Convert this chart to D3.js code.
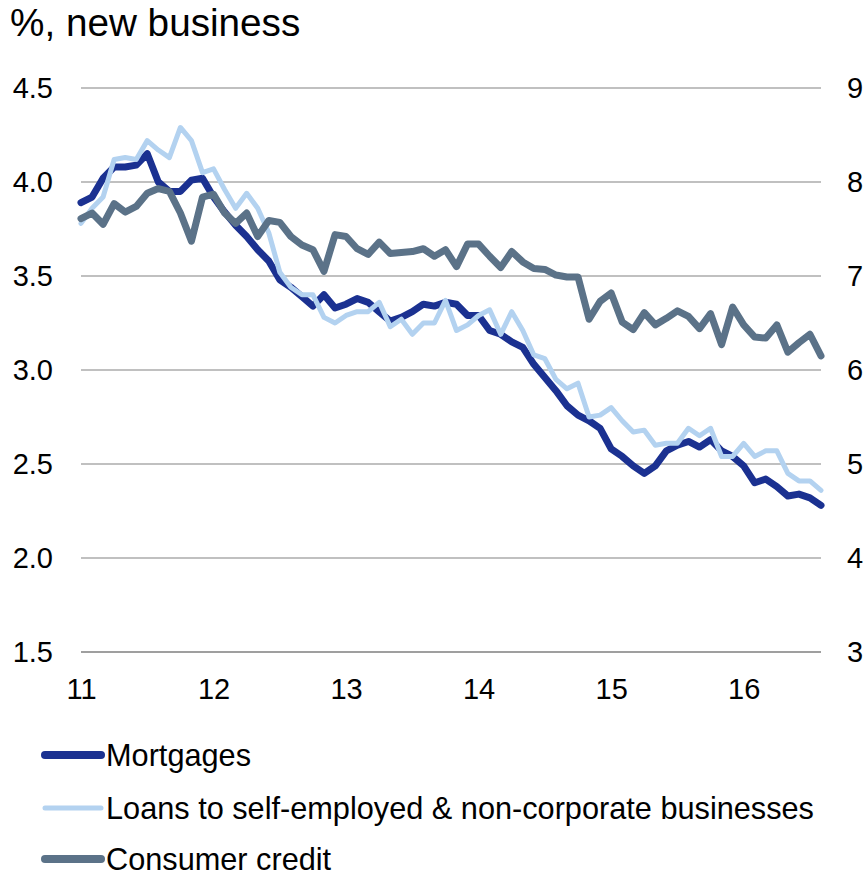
<!DOCTYPE html>
<html>
<head>
<meta charset="utf-8">
<script src="https://cdn.jsdelivr.net/npm/d3@7"></script>
<style>
  html, body { margin: 0; padding: 0; background: #fff; }
  svg { display: block; font-family: "Liberation Sans", Arial, sans-serif; }
</style>
</head>
<body>
<svg id="chart" width="865" height="878"></svg>
<script>
// ---- data (monthly, Jan 2011 – Aug 2016) ----
const yearLabels = ["11", "12", "13", "14", "15", "16"];
const leftTicks = [1.5, 2.0, 2.5, 3.0, 3.5, 4.0, 4.5];
const rightTicks = [3, 4, 5, 6, 7, 8, 9];

const mortgages = [
  3.89, 3.92, 4.02, 4.08, 4.08, 4.09, 4.15, 4.00, 3.95, 3.95, 4.01, 4.02,
  3.92, 3.84, 3.77, 3.71, 3.64, 3.58, 3.48, 3.44, 3.39, 3.34, 3.40, 3.33,
  3.35, 3.38, 3.36, 3.31, 3.26, 3.28, 3.31, 3.35, 3.34, 3.36, 3.35, 3.29,
  3.29, 3.21, 3.19, 3.15, 3.12, 3.03, 2.96, 2.89, 2.81, 2.76, 2.73, 2.69,
  2.58, 2.54, 2.49, 2.45, 2.49, 2.57, 2.60, 2.62, 2.59, 2.63, 2.57, 2.54,
  2.49, 2.40, 2.42, 2.38, 2.33, 2.34, 2.32, 2.28
];
const loans = [
  3.78, 3.86, 3.92, 4.12, 4.13, 4.12, 4.22, 4.17, 4.13, 4.29, 4.22, 4.05,
  4.07, 3.96, 3.86, 3.94, 3.86, 3.73, 3.52, 3.44, 3.40, 3.40, 3.28, 3.25,
  3.29, 3.31, 3.31, 3.36, 3.23, 3.27, 3.19, 3.25, 3.25, 3.37, 3.21, 3.24,
  3.29, 3.32, 3.19, 3.31, 3.21, 3.08, 3.06, 2.95, 2.90, 2.93, 2.75, 2.76,
  2.80, 2.73, 2.67, 2.68, 2.60, 2.61, 2.61, 2.69, 2.65, 2.69, 2.54, 2.54,
  2.61, 2.54, 2.57, 2.57, 2.45, 2.41, 2.41, 2.36
];
const consumer = [
  7.61, 7.67, 7.55, 7.77, 7.68, 7.74, 7.88, 7.93, 7.90, 7.67, 7.37, 7.84,
  7.87, 7.67, 7.56, 7.67, 7.42, 7.59, 7.57, 7.42, 7.33, 7.28, 7.05, 7.44,
  7.42, 7.29, 7.23, 7.36, 7.24, 7.25, 7.26, 7.29, 7.21, 7.28, 7.10, 7.34,
  7.34, 7.21, 7.09, 7.26, 7.15, 7.08, 7.07, 7.01, 6.99, 6.99, 6.54, 6.73,
  6.82, 6.51, 6.43, 6.61, 6.48, 6.55, 6.63, 6.57, 6.44, 6.60, 6.27, 6.67,
  6.48, 6.35, 6.34, 6.48, 6.19, 6.29, 6.38, 6.15
];

const seriesNames = ["Mortgages", "Loans to self-employed & non-corporate businesses", "Consumer credit"];

// ---- layout ----
const svg = d3.select("#chart");
const pLeft = 81, pRight = 821, pTop = 88, pBottom = 652;

const x = d3.scaleLinear().domain([0, mortgages.length - 1]).range([pLeft, pRight]);
const yL = d3.scaleLinear().domain([1.5, 4.5]).range([pBottom, pTop]);
const yR = d3.scaleLinear().domain([3, 9]).range([pBottom, pTop]);

// title
svg.append("text").attr("x", 10).attr("y", 36)
  .attr("font-size", 38.7).attr("fill", "#000").text("%, new business");

// gridlines
svg.append("g").selectAll("line").data(leftTicks).join("line")
  .attr("x1", pLeft).attr("x2", pRight)
  .attr("y1", d => yL(d)).attr("y2", d => yL(d))
  .attr("stroke", d => d === 1.5 ? "#7f7f7f" : "#ababab")
  .attr("stroke-width", 1.5);

const styleText = g => g.selectAll("text").attr("font-size", 29).attr("fill", "#000")
  .attr("font-family", "Liberation Sans, Arial, sans-serif");

// left axis labels
svg.append("g").attr("transform", `translate(${pLeft},0)`)
  .call(d3.axisLeft(yL).tickValues(leftTicks).tickFormat(d3.format(".1f")).tickSize(0).tickPadding(28))
  .call(g => g.select(".domain").remove())
  .call(styleText);

// right axis labels
svg.append("g").attr("transform", `translate(${pRight},0)`)
  .call(d3.axisRight(yR).tickValues(rightTicks).tickFormat(d3.format("d")).tickSize(0).tickPadding(26))
  .call(g => g.select(".domain").remove())
  .call(styleText);

// bottom axis labels (January of each year)
const yearIdx = yearLabels.map((d, i) => i * 12);
svg.append("g").attr("transform", `translate(0,${pBottom})`)
  .call(d3.axisBottom(x).tickValues(yearIdx).tickFormat((d, i) => yearLabels[i]).tickSize(0).tickPadding(26))
  .call(g => g.select(".domain").remove())
  .call(styleText);

// lines
const colors = ["#1b3191", "#b3d2f0", "#5b7288"];
const widths = [7, 5, 7];
const lineL = d3.line().x((d, i) => x(i)).y(d => yL(d));
const lineR = d3.line().x((d, i) => x(i)).y(d => yR(d));

svg.append("path").datum(mortgages).attr("d", lineL)
  .attr("fill", "none").attr("stroke", colors[0]).attr("stroke-width", widths[0])
  .attr("stroke-linejoin", "round").attr("stroke-linecap", "round");
svg.append("path").datum(loans).attr("d", lineL)
  .attr("fill", "none").attr("stroke", colors[1]).attr("stroke-width", widths[1])
  .attr("stroke-linejoin", "round").attr("stroke-linecap", "round");
svg.append("path").datum(consumer).attr("d", lineR)
  .attr("fill", "none").attr("stroke", colors[2]).attr("stroke-width", widths[2])
  .attr("stroke-linejoin", "round").attr("stroke-linecap", "round");

// legend
const legY = [755, 808, 859];
const leg = svg.append("g");
seriesNames.forEach((name, i) => {
  leg.append("line").attr("x1", 45).attr("x2", 101)
    .attr("y1", legY[i]).attr("y2", legY[i])
    .attr("stroke", colors[i]).attr("stroke-width", i === 1 ? 5 : 8)
    .attr("stroke-linecap", "round");
  leg.append("text").attr("x", 106).attr("y", legY[i]).attr("dy", "0.35em")
    .attr("font-size", 30.7).attr("fill", "#000").text(name);
});
</script>
</body>
</html>
